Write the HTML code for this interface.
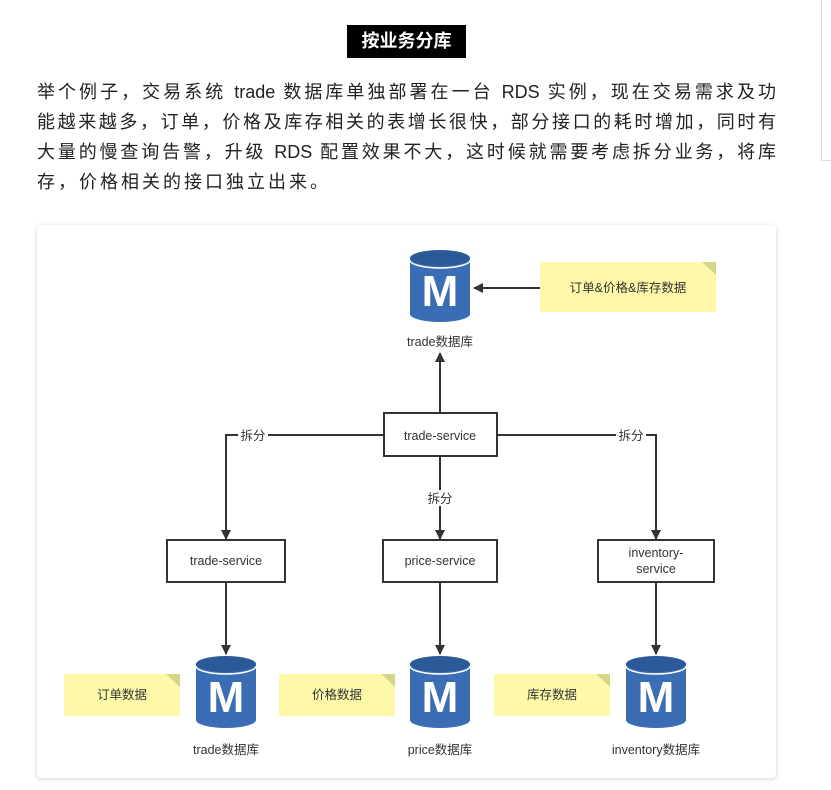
<!DOCTYPE html>
<html><head><meta charset="utf-8"><style>
html,body{margin:0;padding:0;background:#fff;width:831px;height:790px;overflow:hidden;position:relative;font-family:"Liberation Sans","Noto Sans CJK SC",sans-serif}
.h{position:absolute;left:347px;top:25px;width:119px;height:33px;background:#000;color:#fff;font-weight:bold;font-size:18px;line-height:33px;text-align:center}
.p{position:absolute;left:37px;top:77px;width:739px;font-size:18px;line-height:30px;color:#222}
.p div{text-align:justify;text-align-last:justify;text-justify:inter-character;white-space:nowrap;height:30px;width:739px;overflow:hidden}
.p div.l{text-align-last:left}
.rl{position:absolute;left:821px;top:0;width:10px;height:160px;border-left:1px solid #ddd;border-bottom:1px solid #ddd}
.card{position:absolute;left:37px;top:225px;width:739px;height:553px;background:#fff;border-radius:4px;box-shadow:0 1px 5px rgba(0,0,0,0.18)}
svg{position:absolute;left:0;top:0}
</style></head><body>
<div class="rl"></div>
<div class="h">按业务分库</div>
<div class="p">
<div>举个例子，交易系统 trade 数据库单独部署在一台 RDS 实例，现在交易需求及功</div>
<div>能越来越多，订单，价格及库存相关的表增长很快，部分接口的耗时增加，同时有</div>
<div>大量的慢查询告警，升级 RDS 配置效果不大，这时候就需要考虑拆分业务，将库</div>
<div class="l" style="letter-spacing:3px">存，价格相关的接口独立出来。</div>
</div>
<div class="card"></div>
<svg width="831" height="790" font-family="Liberation Sans, Noto Sans CJK SC, sans-serif" font-size="12" fill="#333">
<defs>
<marker id="a" markerWidth="10" markerHeight="10" refX="9" refY="5" orient="auto" markerUnits="userSpaceOnUse"><path d="M0,0 L10,5 L0,10 z" fill="#333"/></marker>
<g id="db">
<path d="M-30,-28 L-30,28 A30,8 0 0 0 30,28 L30,-28 Z" fill="#3a6db3"/>
<ellipse cx="0" cy="-28" rx="30" ry="8" fill="#2c5a99"/>
<path d="M-30,-26 A30,8 0 0 0 30,-26" stroke="#fff" stroke-width="1.5" fill="none"/>
<text x="0" y="20" text-anchor="middle" font-size="44" font-weight="bold" fill="#fff" font-family="Liberation Sans, sans-serif">M</text>
</g>
<g id="note">
<path d="M0,0 L-14,0 L0,13 Z" fill="#d6d68a"/>
</g>
</defs>
<g stroke="#333" stroke-width="2" fill="none">
<line x1="540" y1="288" x2="474" y2="288" marker-end="url(#a)"/>
<line x1="440" y1="413" x2="440" y2="353" marker-end="url(#a)"/>
<polyline points="384,435 226,435 226,539" marker-end="url(#a)"/>
<polyline points="497,435 656,435 656,539" marker-end="url(#a)"/>
<line x1="440" y1="456" x2="440" y2="539" marker-end="url(#a)"/>
<line x1="226" y1="582" x2="226" y2="654" marker-end="url(#a)"/>
<line x1="440" y1="582" x2="440" y2="654" marker-end="url(#a)"/>
<line x1="656" y1="582" x2="656" y2="654" marker-end="url(#a)"/>
</g>
<g fill="#fff" stroke="#333" stroke-width="2">
<rect x="384" y="413" width="113" height="43"/>
<rect x="167" y="540" width="118" height="42"/>
<rect x="383" y="540" width="114" height="42"/>
<rect x="598" y="540" width="116" height="42"/>
</g>
<g fill="#fff">
<rect x="238" y="427" width="30" height="16"/><rect x="616" y="427" width="30" height="16"/><rect x="425" y="490" width="30" height="16"/>
</g>
<g text-anchor="middle" font-size="12.5">
<text x="253" y="440">拆分</text><text x="631" y="440">拆分</text><text x="440" y="503">拆分</text>
<text x="440" y="440">trade-service</text>
<text x="226" y="565">trade-service</text>
<text x="440" y="565">price-service</text>
<text x="656" y="557">inventory-</text><text x="656" y="573">service</text>
</g>
<g fill="#fdf9a8">
<rect x="540" y="262" width="176" height="50"/>
<rect x="64" y="674" width="116" height="42"/>
<rect x="279" y="674" width="116" height="42"/>
<rect x="494" y="674" width="116" height="42"/>
</g>
<use href="#note" x="716" y="262"/><use href="#note" x="180" y="674"/><use href="#note" x="395" y="674"/><use href="#note" x="610" y="674"/>
<g text-anchor="middle" font-size="12.5">
<text x="628" y="292">订单&amp;价格&amp;库存数据</text>
<text x="122" y="699">订单数据</text>
<text x="337" y="699">价格数据</text>
<text x="552" y="699">库存数据</text>
</g>
<use href="#db" x="440" y="286"/>
<use href="#db" x="226" y="692"/>
<use href="#db" x="440" y="692"/>
<use href="#db" x="656" y="692"/>
<g text-anchor="middle" font-size="12.5">
<text x="440" y="346">trade数据库</text>
<text x="226" y="754">trade数据库</text>
<text x="440" y="754">price数据库</text>
<text x="656" y="754">inventory数据库</text>
</g>
</svg>
</body></html>
